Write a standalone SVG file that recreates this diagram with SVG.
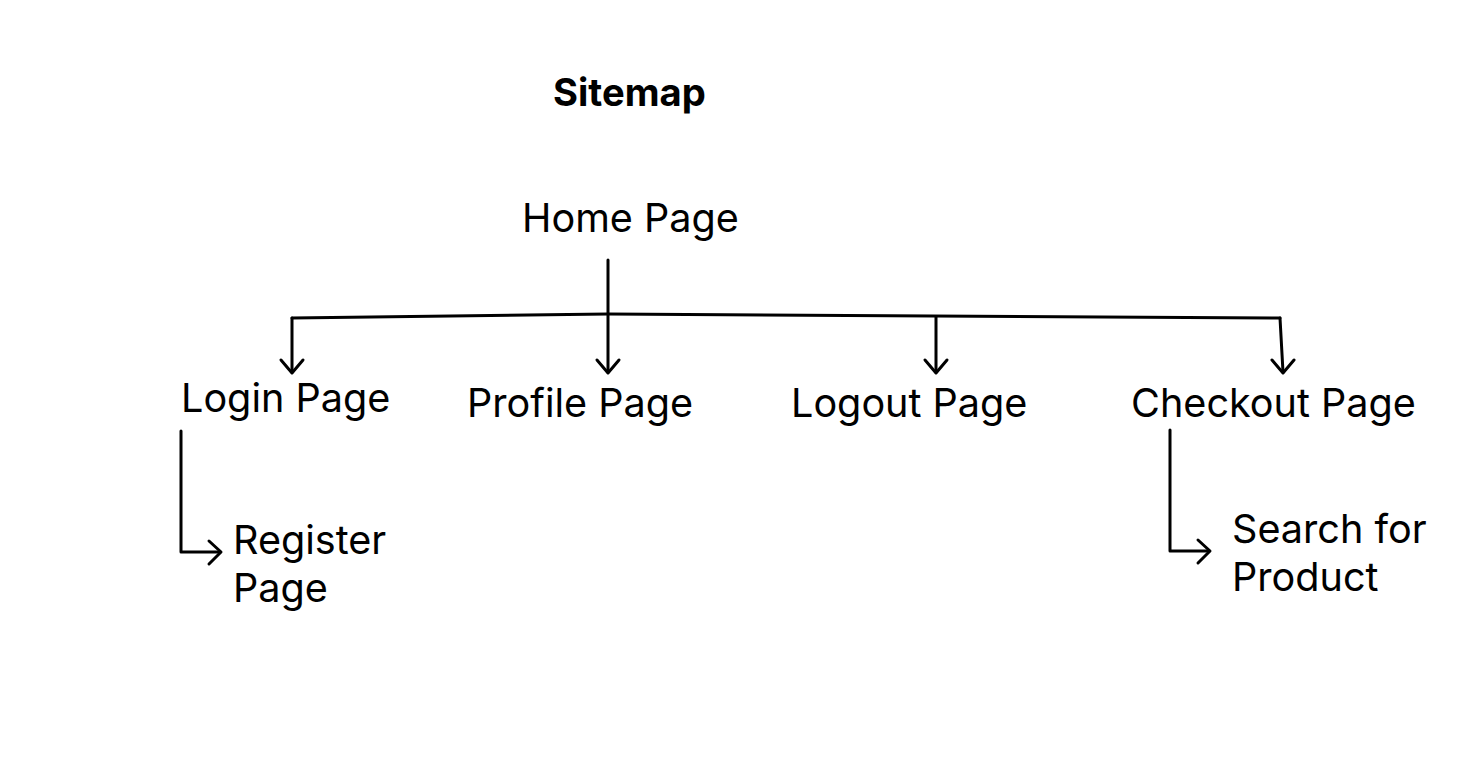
<svg xmlns="http://www.w3.org/2000/svg" width="1478" height="774" viewBox="0 0 1478 774">
  <style>
    .lbl { font-family: Inter, "Noto Sans", "Liberation Sans", sans-serif; font-size: 39.6px; fill: #000; }
    .title { font-family: Inter, "Noto Sans", "Liberation Sans", sans-serif; font-size: 38.2px; font-weight: 700; fill: #000; }
    .wire { fill: none; stroke: #000; stroke-width: 3; stroke-linecap: round; stroke-linejoin: round; }
  </style>
  <rect width="1478" height="774" fill="#fff"/>

  <text class="title" x="553" y="106">Sitemap</text>

  <g id="connectors">
    <!-- trunk from home down to profile -->
    <path class="wire" d="M608 260 L608 372"/>
    <!-- horizontal bus -->
    <path class="wire" d="M292 318 L608 314 L1280 318"/>
    <!-- drops -->
    <path class="wire" d="M292 318 L292 372"/>
    <path class="wire" d="M936 317 L936 372"/>
    <path class="wire" d="M1280 318 L1283 372"/>
    <!-- down arrowheads -->
    <path class="wire" d="M281 360 L292 373 L303 360"/>
    <path class="wire" d="M597 360 L608 373 L619 360"/>
    <path class="wire" d="M925 360 L936 373 L947 360"/>
    <path class="wire" d="M1272 360 L1283 373 L1294 360"/>
    <!-- elbows to child pages -->
    <path class="wire" d="M181 431 L181 552 L220 552"/>
    <path class="wire" d="M209 541 L221 552 L209 564"/>
    <path class="wire" d="M1170 430 L1170 551 L1209 551"/>
    <path class="wire" d="M1198 540 L1210 551 L1198 563"/>
  </g>

  <g id="home"><text class="lbl" x="522" y="232">Home Page</text></g>
  <g id="login"><text class="lbl" x="181" y="412">Login Page</text></g>
  <g id="profile"><text class="lbl" x="467" y="417">Profile Page</text></g>
  <g id="logout"><text class="lbl" x="791" y="417">Logout Page</text></g>
  <g id="checkout"><text class="lbl" x="1131" y="417">Checkout Page</text></g>
  <g id="register">
    <text class="lbl" x="233" y="554">Register</text>
    <text class="lbl" x="233" y="602">Page</text>
  </g>
  <g id="search">
    <text class="lbl" x="1232" y="543">Search for</text>
    <text class="lbl" x="1232" y="591">Product</text>
  </g>
</svg>
